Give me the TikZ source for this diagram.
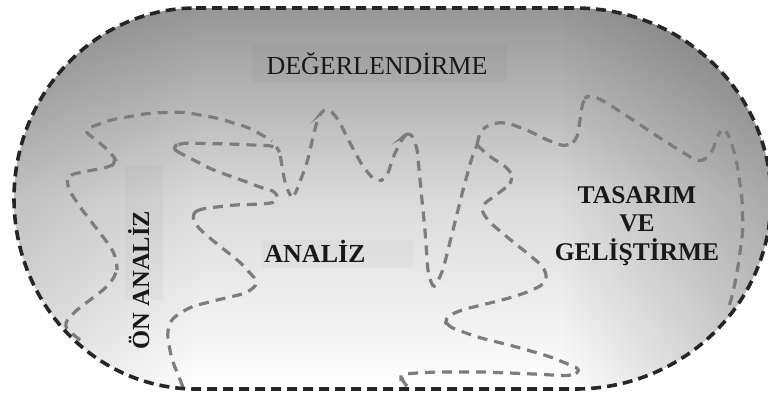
\documentclass[tikz,border=0pt]{standalone}
\usepackage{fontspec}
\setmainfont{Liberation Serif}
\usetikzlibrary{fadings}
\tikzfading[name=fadeR, left color=transparent!100, right color=transparent!0]
\tikzfading[name=fadeL, left color=transparent!0, right color=transparent!100]
\definecolor{bordc}{RGB}{38,38,38}
\definecolor{trailc}{RGB}{125,125,125}
\definecolor{topc}{RGB}{150,150,150}
\definecolor{midc}{RGB}{218,218,218}
\begin{document}
\begin{tikzpicture}[x=1pt,y=-1pt,
  border/.style={draw=bordc, line width=3.6pt, dash pattern=on 10pt off 6pt},
  trail/.style={draw=trailc, line width=3.2pt, dash pattern=on 10pt off 7pt, rounded corners=7pt},
  lbl/.style={font=\fontsize{25.5}{28}\selectfont\bfseries, text=black!90, inner sep=0pt, anchor=base},
  lblbg/.style={fill=black, fill opacity=0.025, draw=none}]
\useasboundingbox (0,0) rectangle (768,397);
% background
\shade[top color=topc, bottom color=white, middle color=midc]
  (196,8) -- (575,8) arc[start angle=-90, end angle=90, x radius=196, y radius=190.5]
  -- (196,389) arc[start angle=90, end angle=270, x radius=182, y radius=190.5] -- cycle;
\begin{scope}
  \clip (196,8) -- (575,8) arc[start angle=-90, end angle=90, x radius=196, y radius=190.5]
  -- (196,389) arc[start angle=90, end angle=270, x radius=182, y radius=190.5] -- cycle;
  \fill[black, fill opacity=0.22, path fading=fadeR] (560,0) rectangle (771,397);
  \fill[black, fill opacity=0.12, path fading=fadeL] (0,0) rectangle (200,397);
\end{scope}
% faint label backgrounds
\fill[lblbg] (252,45) rectangle (507,82);
\fill[lblbg] (125,165) rectangle (163,300);
\fill[lblbg] (262,240) rectangle (413,268);
% trails
\draw[trail] (80,340) -- (63,326) -- (73,313) -- (90,300) -- (107,287) -- (117,273) -- (117,263)
  -- (113,250) -- (100,233) -- (80,207) -- (67,187) -- (68,175) -- (93,170) -- (110,167)
  -- (117,162) -- (113,155) -- (100,143) -- (83,130) -- (110,120) -- (150,113) -- (183,112)
  -- (217,118) -- (250,128) -- (272,141);
\draw[trail] (183,387) -- (172,360) -- (167,335) -- (170,320) -- (190,307) -- (217,300)
  -- (247,293) -- (259,283) -- (240,262) -- (217,244) -- (197,227) -- (191,214) -- (200,209)
  -- (233,205) -- (262,204) .. controls (281,202) and (279,192) .. (262,188)
  -- (247,182) -- (213,170) -- (180,153)
  -- (171,148) -- (180,143) -- (230,144) -- (276,146) -- (280,153) -- (283,173) -- (287,190)
  -- (293,199) -- (298,187) -- (307,163) -- (313,137) -- (318,117) -- (326,107) -- (337,117)
  -- (350,143) -- (363,167) -- (377,183) -- (387,177) -- (393,157) -- (403,137) -- (410,131)
  -- (417,147) -- (420,180) -- (425,230) -- (428,273) -- (434,290) -- (443,270) -- (453,230)
  -- (463,190) -- (472,157) -- (477,145);
\draw[trail] (477,145) -- (480,131) -- (490,124) -- (505,122) -- (527,130) -- (547,140)
  -- (566,147) -- (577,140) -- (580,120) -- (583,100) -- (590,94) -- (607,103) -- (633,120)
  -- (663,140) -- (700,163) -- (712,153) -- (717,137) -- (723,127) -- (730,137) -- (737,163)
  -- (742,197) -- (743,230) -- (738,267) -- (733,293) -- (728,310);
\draw[trail] (477,145) -- (490,157) -- (507,167) -- (514,178) -- (507,187) -- (493,197)
  -- (480,207) -- (487,220) -- (507,237) -- (527,253) -- (545,268) -- (547,282) -- (533,290)
  -- (513,297) -- (494,302) -- (461,310) -- (444,318) -- (447,326) -- (477,337) -- (517,347)
  -- (551,357) -- (582,370) -- (571,376) -- (534,374) -- (484,372) -- (434,372) -- (401,374)
  -- (401,380) -- (408,387);
% border
\draw[border] (196,8) -- (575,8) arc[start angle=-90, end angle=90, x radius=196, y radius=190.5]
  -- (196,389) arc[start angle=90, end angle=270, x radius=182, y radius=190.5] -- cycle;
% labels
\node[lbl, font=\fontsize{26}{28}\selectfont] (deg) at (377,74) {DEĞERLENDİRME};
\node[lbl, rotate=90, font=\fontsize{24.5}{28}\selectfont\bfseries] (onan) at (149,280) {ÖN ANALİZ};
\node[lbl, font=\fontsize{26}{28}\selectfont\bfseries] (anl) at (315,262) {ANALİZ};
\node[lbl] (tas) at (637,203) {TASARIM};
\node[lbl] (ve) at (637,231) {VE};
\node[lbl] (gel) at (637,260) {GELİŞTİRME};
\end{tikzpicture}
\end{document}
